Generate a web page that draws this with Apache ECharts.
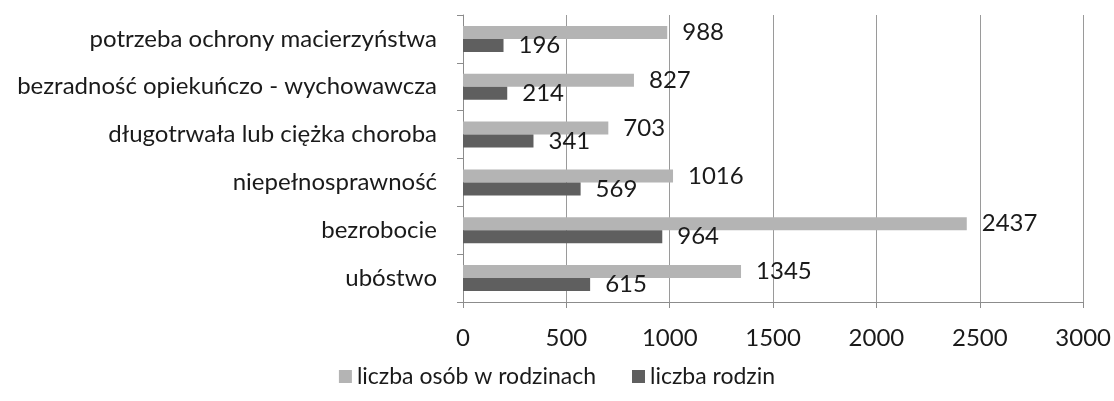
<!DOCTYPE html>
<html>
<head>
<meta charset="utf-8">
<script src="https://cdn.jsdelivr.net/npm/echarts@6/dist/echarts.min.js"></script>
<style>
  html, body { margin: 0; padding: 0; background: #fff; }
  #main { width: 1114px; height: 401px; }
</style>
</head>
<body>
<div id="main"></div>
<script>
// kategorie od dołu do góry
var categories = ['ubóstwo', 'bezrobocie', 'niepełnosprawność', 'długotrwała lub ciężka choroba',
    'bezradność opiekuńczo - wychowawcza', 'potrzeba ochrony macierzyństwa'];
var seriesNames = ['liczba osób w rodzinach', 'liczba rodzin'];
var osoby = [1345, 2437, 1016, 703, 827, 988];
var rodziny = [615, 964, 569, 341, 214, 196];

var myChart = echarts.init(document.getElementById('main'));

var font = 'Lato';
var labelStyle = {
    show: true,
    position: 'right',
    distance: 15,
    color: '#1a1a1a',
    fontFamily: font,
    fontSize: 24
};

var option = {
    animation: false,
    textStyle: { fontFamily: font },
    grid: { left: 463, right: 28, top: 15, bottom: 99 },
    legend: {
        bottom: 8,
        left: 'center',
        itemWidth: 13,
        itemHeight: 13,
        itemGap: 36,
        icon: 'rect',
        textStyle: { fontFamily: font, fontSize: 23, color: '#1a1a1a' },
        data: seriesNames
    },
    xAxis: {
        type: 'value',
        min: 0,
        max: 3000,
        interval: 500,
        axisLine: { show: true, lineStyle: { color: '#8c8c8c' } },
        axisTick: { show: true, length: 6, lineStyle: { color: '#8c8c8c' } },
        axisLabel: {
            color: '#1a1a1a', fontFamily: font, fontSize: 24, margin: 24,
            formatter: function (v) { return String(v); }
        },
        splitLine: { show: true, lineStyle: { color: '#9a9a9a' } }
    },
    yAxis: {
        type: 'category',
        data: categories,
        axisLine: { show: true, lineStyle: { color: '#8c8c8c' } },
        axisTick: { show: true, length: 6, lineStyle: { color: '#8c8c8c' } },
        axisLabel: { color: '#1a1a1a', fontFamily: font, fontSize: 24, margin: 26 }
    },
    series: [
        {
            name: seriesNames[0],
            type: 'bar',
            data: osoby,
            barWidth: 13,
            barGap: '0%',
            itemStyle: { color: '#b4b4b4' },
            label: labelStyle
        },
        {
            name: seriesNames[1],
            type: 'bar',
            data: rodziny,
            barWidth: 13,
            barGap: '0%',
            itemStyle: { color: '#5f5f5f' },
            label: labelStyle
        }
    ]
};

myChart.setOption(option);
</script>
</body>
</html>
